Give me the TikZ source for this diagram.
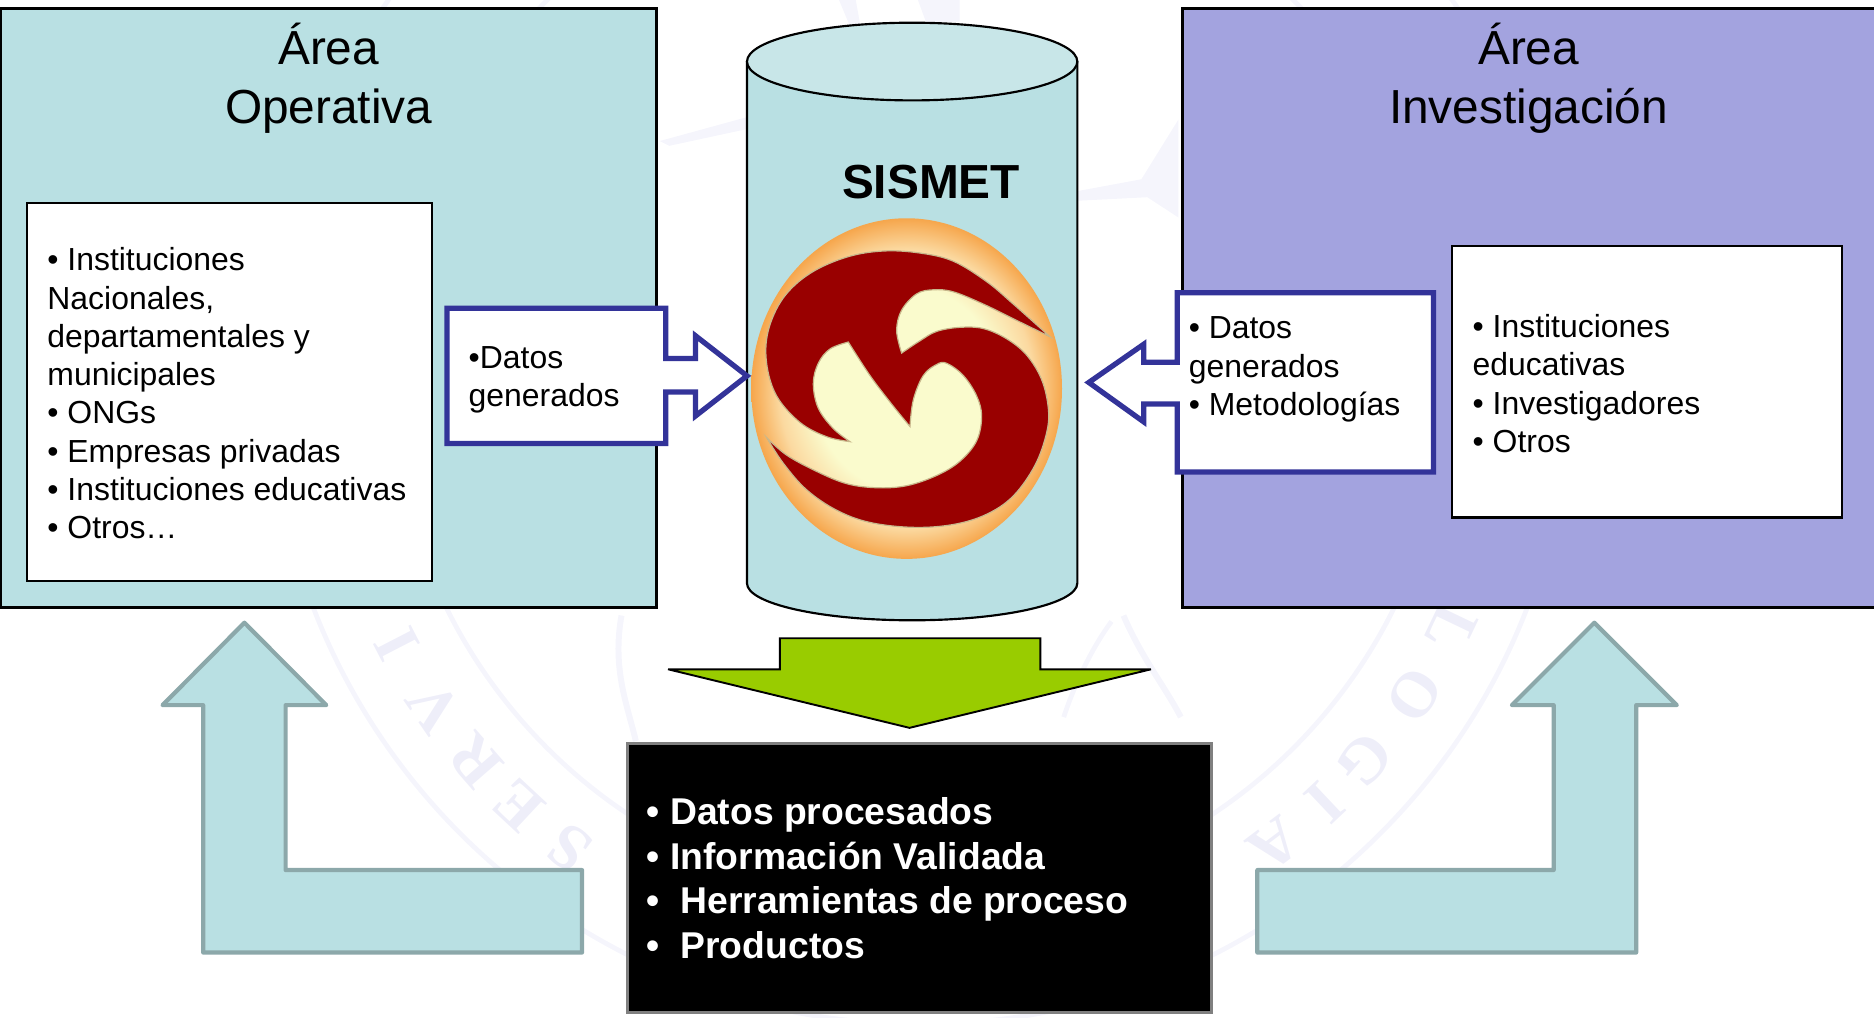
\documentclass[tikz,border=0pt]{standalone}
\usepackage{fontspec}
\setmainfont{Liberation Sans}
\newfontfamily\wmfont{Liberation Serif}
\definecolor{teal1}{HTML}{B9E0E3}
\definecolor{teal2}{HTML}{C8E6E8}
\definecolor{violet1}{HTML}{A3A3DF}
\definecolor{navy1}{HTML}{333399}
\definecolor{arrowedge}{HTML}{8CA8AA}
\definecolor{green1}{HTML}{99CC00}
\definecolor{wm}{HTML}{EEEEF9}
\definecolor{wmpale}{HTML}{F5F5FC}
\definecolor{logored}{HTML}{990000}
\definecolor{logoedge}{HTML}{C8B88C}
\definecolor{logocream}{HTML}{FAFBCD}
\definecolor{logomid}{HTML}{FBD9A0}
\definecolor{logoorange}{HTML}{F6A64C}
\pgfdeclareradialshading{logoshade}{\pgfpoint{0bp}{0bp}}{%
  color(0bp)=(logocream);color(15bp)=(logocream);color(20.5bp)=(logomid);color(25bp)=(logoorange);color(50bp)=(logoorange)}
\newcommand{\fsz}[2]{\fontsize{#1}{#2}\selectfont}
\tikzset{
  panel/.style={draw=black,line width=2.5pt,outer sep=0pt},
  listbox/.style={draw=black,fill=white,line width=2pt,outer sep=0pt},
  callout/.style={draw=navy1,fill=white,line width=4.4pt,miter limit=4},
  bigarrow/.style={draw=arrowedge,fill=teal1,line width=3.5pt,line join=round},
  listtext/.style={anchor=base west,inner sep=0pt,align=left,font=\fsz{26.7}{32}},
  titletext/.style={anchor=base,inner sep=0pt,align=center,font=\fsz{40}{49}},
  whitetext/.style={anchor=base west,inner sep=0pt,align=left,text=white,font=\bfseries\fsz{31.2}{37.4}},
  wmletter/.style={text=wm,inner sep=0pt,font=\wmfont\bfseries\fsz{54}{54}},
  wmring/.style={draw=wmpale,line width=4pt},
}
\begin{document}
\begin{tikzpicture}[x=1pt,y=-1pt]
\useasboundingbox (0,0) rectangle (1568,851);
% faint watermark seal
\draw[wmring] (770,313) circle (544);
\draw[wmring] (770,313) circle (442);
\foreach \l/\a in {S/-126.5,E/-133,R/-139,V/-145.6,I/-152.7,L/-25.6,O/-33,G/-41,I/-46.7,A/-53}
  \node[wmletter,rotate=\a-90] at ({770+493*cos(\a)},{313-493*sin(\a)}) {\l};
\fill[wmpale] (552,118) -- (625,98) -- (625,108) -- (560,122) -- cycle;
\fill[wmpale] (901,168) -- (960,165) -- (986,182) -- (986,100) -- (955,150) -- (901,160) -- cycle;
\fill[wmpale] (768,0) -- (803,0) -- (803,18) -- (775,19) -- cycle;
\fill[wmpale] (702,0) -- (716,0) -- (720,22) -- (712,24) -- cycle;
\draw[wmpale,line width=5pt] (520,515) .. controls (512,560) and (525,590) .. (532,620);
\draw[wmpale,line width=5pt] (940,515) .. controls (955,550) and (975,575) .. (988,600);
\draw[wmpale,line width=4pt] (890,600) .. controls (900,570) and (915,540) .. (930,520);

% panels
\node[panel,fill=teal1,minimum width=549pt,minimum height=501pt,anchor=north west,inner sep=0pt] (opbox) at (0.5,7.5) {};
\node[panel,fill=violet1,minimum width=585pt,minimum height=501pt,anchor=north west,inner sep=0pt] (invbox) at (989,7.5) {};
\node[titletext] (optitle) at (275,103) {Área\\Operativa};
\node[titletext] (invtitle) at (1279,103) {Área\\Investigación};

\node[listbox,minimum width=339pt,minimum height=316pt,anchor=north west,inner sep=0pt] (oplistbox) at (22.5,170) {};
\node[listbox,minimum width=326pt,minimum height=227pt,anchor=north west,inner sep=0pt] (invlistbox) at (1215,206) {};
\node[listtext] (oplist) at (39.5,450.7) {• Instituciones\\Nacionales,\\departamentales y\\municipales\\• ONGs\\• Empresas privadas\\• Instituciones educativas\\• Otros…};
\node[listtext] (invlist) at (1232,378.5) {• Instituciones\\educativas\\• Investigadores\\• Otros};

% cylinder
\path[draw=black,line width=1.8pt,fill=teal1] (625,52) -- (625,488) arc[start angle=180,end angle=0,x radius=138.2,y radius=31] -- (901.4,52) -- cycle;
\draw[black,line width=1.8pt,fill=teal2] (763.2,51.5) ellipse[x radius=138.2,y radius=32.5];
\node[anchor=base,inner sep=0pt,font=\bfseries\fsz{40}{48}] (sismet) at (779,166) {SISMET};

% logo
\begin{scope}[shift={(602.4,0)},x=0.2789pt,y=-0.3415pt]
\shade[shading=logoshade] (560,952) ellipse[x radius=130pt,y radius=142.5pt];
\path[fill=logored,draw=logoedge,line width=1pt,line join=miter]
 plot[smooth,tension=.6] coordinates {(990,825)(880,745)(800,690)(700,640)(600,620)(490,615)(380,630)(270,670)(190,730)(145,810)(140,890)(170,970)(240,1035)(320,1070)(390,1082)}
 -- plot[smooth,tension=.6] coordinates {(390,1082)(340,1050)(295,1000)(280,940)(295,890)(330,855)(385,838)}
 -- plot[smooth,tension=.6] coordinates {(385,838)(450,920)(515,990)(570,1045)}
 -- plot[smooth,tension=.6] coordinates {(570,1045)(580,980)(610,920)(650,893)(680,890)(730,920)(770,970)(785,1020)(770,1080)(720,1130)(650,1165)(560,1190)(470,1195)(380,1185)(290,1155)(200,1115)(140,1072)}
 -- plot[smooth,tension=.6] coordinates {(140,1072)(190,1135)(260,1200)(350,1250)(450,1280)(580,1292)(700,1285)(800,1260)(880,1215)(945,1140)(980,1060)(985,1000)(965,930)(920,870)(860,830)(790,805)(720,802)(650,812)(600,835)(545,865)}
 -- plot[smooth,tension=.6] coordinates {(545,865)(530,810)(545,760)(590,720)(640,710)(700,715)(790,745)(890,785)(990,825)}
 -- cycle;
\end{scope}

% callouts
\path[callout] (374,258) -- (557,258) -- (557,300) -- (582,300) -- (582,281) -- (625,314.5) -- (582,348) -- (582,328) -- (557,328) -- (557,371) -- (374,371) -- cycle;
\node[listtext] (oplabel) at (392,340.5) {•Datos\\generados};
\path[callout] (1199.5,245) -- (1199.5,395) -- (985,395) -- (985,338) -- (957,338) -- (957,353) -- (911,320) -- (957,288) -- (957,303) -- (985,303) -- (985,245) -- cycle;
\node[listtext] (invlabel) at (994.5,347.5) {• Datos\\generados\\• Metodologías};

% green arrow
\path[draw=black,line width=1.6pt,fill=green1,line join=miter,miter limit=3] (652.5,534) -- (870.5,534) -- (870.5,560) -- (963,560) -- (761,609) -- (559,560) -- (652.5,560) -- cycle;

% results box
\node[draw=black!50,fill=black,line width=2.5pt,outer sep=0pt,minimum width=489pt,minimum height=225pt,anchor=north west,inner sep=0pt] (resbox) at (525,622.5) {};
\node[whitetext] (reslist) at (541,802) {• Datos procesados\\• Información Validada\\•\ \ Herramientas de proceso\\•\ \ Productos};

% return arrows
\path[bigarrow] (204.5,521) -- (273,590) -- (239,590) -- (239,728) -- (487,728) -- (487,797) -- (170,797) -- (170,590) -- (136,590) -- cycle;
\path[bigarrow] (1334,521) -- (1403,590) -- (1369,590) -- (1369,797) -- (1052,797) -- (1052,728) -- (1300,728) -- (1300,590) -- (1265,590) -- cycle;
\end{tikzpicture}
\end{document}
